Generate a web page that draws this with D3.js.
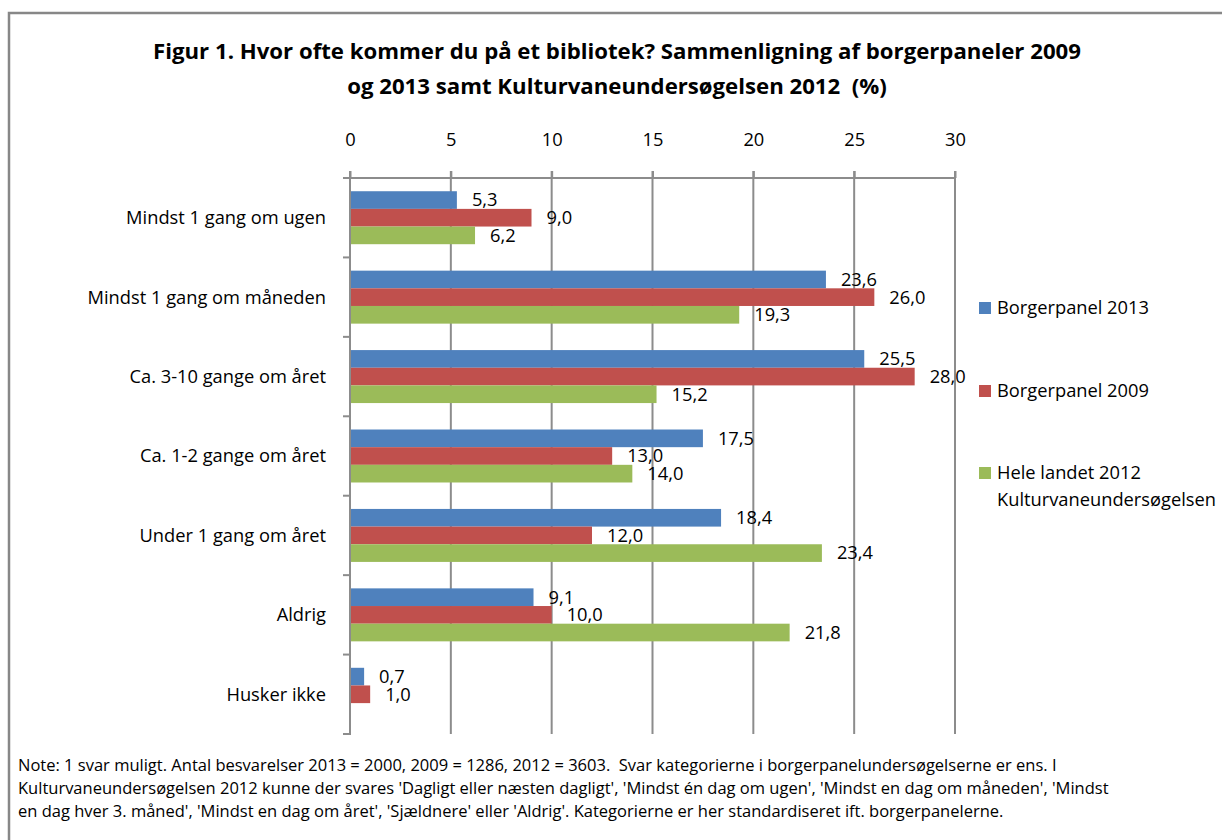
<!DOCTYPE html>
<html>
<head>
<meta charset="utf-8">
<script src="https://cdn.jsdelivr.net/npm/d3@7"></script>
<style>
  body { margin: 0; background: #fff; }
  text { font-family: "Open Sans", sans-serif; fill: #000; white-space: pre; }
</style>
</head>
<body>
<div id="chart"></div>
<script>
// categories and values (%)
var categories = ["Mindst 1 gang om ugen", "Mindst 1 gang om måneden", "Ca. 3-10 gange om året",
    "Ca. 1-2 gange om året", "Under 1 gang om året", "Aldrig", "Husker ikke"];
var seriesNames = ["Borgerpanel 2013", "Borgerpanel 2009", "Hele landet 2012 Kulturvaneundersøgelsen"];
var borger2013 = [5.3, 23.6, 25.5, 17.5, 18.4, 9.1, 0.7];
var borger2009 = [9.0, 26.0, 28.0, 13.0, 12.0, 10.0, 1.0];
var hele2012 = [6.2, 19.3, 15.2, 14.0, 23.4, 21.8, null];
var xTicks = [0, 5, 10, 15, 20, 25, 30];
var colors = ["#4f81bd", "#c0504d", "#9bbb59"];

var titleLines = ["Figur 1. Hvor ofte kommer du på et bibliotek? Sammenligning af borgerpaneler 2009",
    "og 2013 samt Kulturvaneundersøgelsen 2012  (%)"];
var noteLines = [
    "Note: 1 svar muligt. Antal besvarelser 2013 = 2000, 2009 = 1286, 2012 = 3603.  Svar kategorierne i borgerpanelundersøgelserne er ens. I",
    "Kulturvaneundersøgelsen 2012 kunne der svares 'Dagligt eller næsten dagligt', 'Mindst én dag om ugen', 'Mindst en dag om måneden', 'Mindst",
    "en dag hver 3. måned', 'Mindst en dag om året', 'Sjældnere' eller 'Aldrig'. Kategorierne er her standardiseret ift. borgerpanelerne."
];

var width = 1222, height = 840;
var fs = "18.3px";
var svg = d3.select("#chart").append("svg")
    .attr("width", width)
    .attr("height", height);

// outer frame
svg.append("rect")
    .attr("x", 9).attr("y", 13)
    .attr("width", 1230).attr("height", 840)
    .attr("fill", "none")
    .attr("stroke", "#878787")
    .attr("stroke-width", 2.5);

// title
svg.append("g").selectAll("text")
    .data(titleLines)
    .enter().append("text")
    .attr("x", 617)
    .attr("y", function (d, i) { return 59 + i * 35; })
    .attr("text-anchor", "middle")
    .style("font-size", "22.2px")
    .style("font-weight", "bold")
    .text(function (d) { return d; });

var x = d3.scaleLinear().domain([0, 30]).range([350, 955]);
var y = d3.scaleBand().domain(categories).range([178, 734])
    .paddingInner(0.333).paddingOuter(0.1665);
var ySub = d3.scaleBand().domain([0, 1, 2]).range([0, y.bandwidth()]);

var plot = svg.append("g");

// vertical gridlines
plot.selectAll(".grid")
    .data(xTicks.slice(1))
    .enter().append("line")
    .attr("x1", function (d) { return x(d); })
    .attr("x2", function (d) { return x(d); })
    .attr("y1", 171).attr("y2", 734)
    .attr("stroke", "#8c8c8c")
    .attr("stroke-width", 2);

// top axis
var xAxis = d3.axisTop(x).tickValues(xTicks).tickSize(7).tickPadding(25)
    .tickFormat(d3.format("d"));
var gx = plot.append("g")
    .attr("transform", "translate(0,178)")
    .call(xAxis);
gx.select(".domain").remove();
gx.append("line").attr("x1", 343).attr("x2", 955).attr("stroke", "#8c8c8c").attr("stroke-width", 2);
gx.selectAll(".tick line").attr("stroke", "#8c8c8c").attr("stroke-width", 2);
gx.selectAll(".tick text").style("font-size", fs).style("font-family", "'Open Sans', sans-serif").attr("fill", "#000");

// left axis line and category ticks
plot.append("line")
    .attr("x1", 350).attr("x2", 350).attr("y1", 171).attr("y2", 735)
    .attr("stroke", "#8c8c8c").attr("stroke-width", 2);
var bounds = categories.map(function (c) { return y(c) - y.step() * y.paddingInner() / 2; });
bounds.push(734);
plot.selectAll(".ctick")
    .data(bounds)
    .enter().append("line")
    .attr("x1", 343).attr("x2", 350)
    .attr("y1", function (d) { return d; })
    .attr("y2", function (d) { return d; })
    .attr("stroke", "#8c8c8c").attr("stroke-width", 2);

// category labels
plot.selectAll(".clabel")
    .data(categories)
    .enter().append("text")
    .attr("x", 326)
    .attr("y", function (d) { return y(d) + y.bandwidth() / 2; })
    .attr("dy", "0.35em")
    .attr("text-anchor", "end")
    .style("font-size", fs)
    .text(function (d) { return d; });

// bars
var allSeries = [borger2013, borger2009, hele2012];
allSeries.forEach(function (vals, s) {
    var rows = categories.map(function (c, i) { return { cat: c, value: vals[i] }; })
        .filter(function (d) { return d.value !== null; });

    var g = plot.append("g");
    g.selectAll("rect")
        .data(rows)
        .enter().append("rect")
        .attr("x", x(0) + 1)
        .attr("y", function (d) { return y(d.cat) + ySub(s); })
        .attr("width", function (d) { return x(d.value) - x(0) - 1; })
        .attr("height", ySub.bandwidth())
        .attr("fill", colors[s]);

    g.selectAll("text")
        .data(rows)
        .enter().append("text")
        .attr("x", function (d) { return x(d.value) + 15; })
        .attr("y", function (d) { return y(d.cat) + ySub(s) + ySub.bandwidth() / 2; })
        .attr("dy", "0.35em")
        .style("font-size", fs)
        .text(function (d) { return d3.format(".1f")(d.value).replace(".", ","); });
});

// legend
var legendY = [308, 391, 473];
var legend = svg.append("g");
seriesNames.forEach(function (name, i) {
    legend.append("rect")
        .attr("x", 979).attr("y", legendY[i] - 6)
        .attr("width", 12).attr("height", 12)
        .attr("fill", colors[i]);
    var t = legend.append("text")
        .attr("x", 997).attr("y", legendY[i])
        .attr("dy", "0.35em")
        .style("font-size", fs);
    if (i === 2) {
        t.append("tspan").text("Hele landet 2012");
        t.append("tspan").attr("x", 997).attr("dy", "27").text("Kulturvaneundersøgelsen");
    } else {
        t.text(name);
    }
});

// note
svg.append("g").selectAll("text")
    .data(noteLines)
    .enter().append("text")
    .attr("x", 18)
    .attr("y", function (d, i) { return 771 + i * 23; })
    .style("font-size", "16.5px")
    .text(function (d) { return d; });
</script>
</body>
</html>
